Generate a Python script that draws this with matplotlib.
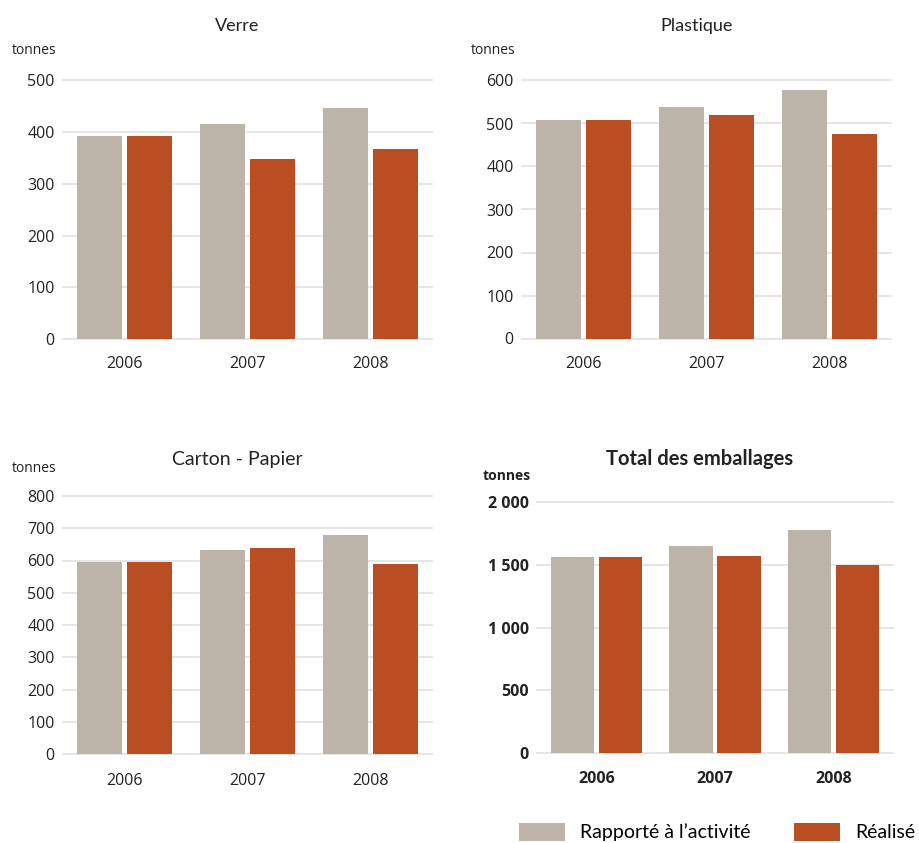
import numpy as np
import matplotlib
matplotlib.use("Agg")
import matplotlib.pyplot as plt
from matplotlib.patches import Patch

years = ["2006", "2007", "2008"]

verre_rapporte = [392, 416, 447]
verre_realise = [392, 348, 367]

plastique_rapporte = [508, 538, 577]
plastique_realise = [508, 519, 475]

carton_rapporte = [595, 633, 679]
carton_realise = [595, 639, 589]

total_rapporte = [1561, 1649, 1777]
total_realise = [1561, 1569, 1498]

GRAY = "#bcb4a8"
RED = "#b84e22"
GRID = "#e2e2e2"
TXT = "#222222"

W, H = 920, 843
fig = plt.figure(figsize=(W / 100, H / 100), dpi=100)
plt.rcParams['font.family'] = ['Open Sans', 'DejaVu Sans']


def px_axes(x0, x1, y0, y1):
    return fig.add_axes([x0 / W, 1 - y1 / H, (x1 - x0) / W, (y1 - y0) / H])


def panel(box, rap, rea, ymax, step, title, title_xy, tonnes_xy, year_y,
          bold=False, fmt=None, title_size=13):
    ax = px_axes(*box)
    x = np.arange(len(years))
    w = 0.366
    ax.bar(x - 0.203, rap, w, color=GRAY, zorder=2)
    ax.bar(x + 0.203, rea, w, color=RED, zorder=2)
    ax.set_xlim(-0.5, 2.5)
    ax.set_ylim(0, ymax)
    ticks = np.arange(0, ymax + 1, step)
    ax.set_yticks(ticks)
    weight = "bold" if bold else "normal"
    labels = [fmt(t) if fmt else str(int(t)) for t in ticks]
    ax.set_yticklabels(labels, fontsize=11.5, color=TXT, fontweight=weight)
    ax.set_xticks([])
    for t in ticks:
        ax.axhline(t, color=GRID, lw=1.2, zorder=1, clip_on=False)
    for s in ax.spines.values():
        s.set_visible(False)
    ax.tick_params(axis="y", length=0, pad=6)
    for i, yr in enumerate(years):
        xf = (box[0] + (box[1] - box[0]) * (i + 0.5) / 3) / W
        fig.text(xf, 1 - year_y / H, yr, ha="center", va="center",
                 fontsize=11.5, color=TXT, fontweight=weight)
    fig.text(title_xy[0] / W, 1 - title_xy[1] / H, title, ha="center",
             va="center", fontsize=title_size, color=TXT, fontweight=weight,
             family=['Lato', 'DejaVu Sans'])
    fig.text(tonnes_xy[0] / W, 1 - tonnes_xy[1] / H, "tonnes", ha="left",
             va="center", fontsize=10, color=TXT, fontweight=weight)
    return ax


def fr_thousands(v):
    v = int(v)
    return "{:,}".format(v).replace(",", " ")


panel((63, 432, 80.5, 339), verre_rapporte, verre_realise, 500, 100,
      "Verre", (237, 26), (12, 51), 364)
panel((522, 891, 80.5, 338.5), plastique_rapporte, plastique_realise, 600, 100,
      "Plastique", (697, 26), (471, 50), 364)
panel((63, 432, 496, 754), carton_rapporte, carton_realise, 800, 100,
      "Carton - Papier", (237, 459), (12, 468), 781, title_size=14)
panel((537, 893, 502, 753), total_rapporte, total_realise, 2000, 500,
      "Total des emballages", (700, 459), (483, 476), 779,
      bold=True, fmt=fr_thousands, title_size=14.5)

fs = 14
em = fs * 100 / 72
handles = [Patch(facecolor=GRAY, label="Rapporté à l’activité"),
           Patch(facecolor=RED, label="Réalisé")]
fig.legend(handles=handles, loc="center left",
           bbox_to_anchor=(501 / W, 1 - 832 / H), ncol=2, frameon=False,
           handlelength=46 / em, handleheight=21 / em,
           columnspacing=44 / em, handletextpad=15 / em,
           prop={'family': ['Lato', 'DejaVu Sans'], 'size': fs})

fig.savefig("out.png", dpi=100, facecolor="white")
